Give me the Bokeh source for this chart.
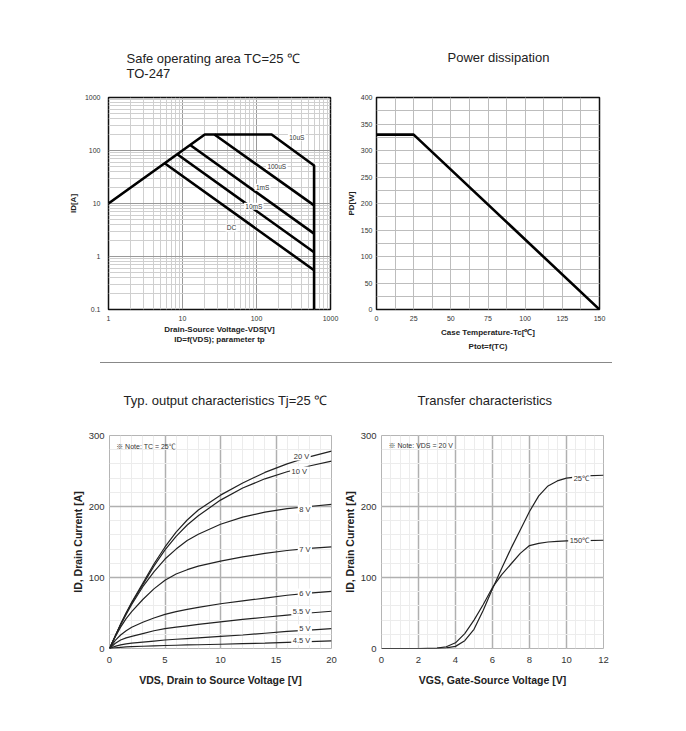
from bokeh.plotting import figure
from bokeh.models import (Title, Label, LabelSet, ColumnDataSource, FixedTicker,
                          CustomJSTickFormatter, SingleIntervalTicker, Div, Range1d)
from bokeh.layouts import row, column
from bokeh.core.properties import value
from bokeh.embed import file_html
from bokeh.resources import INLINE

FONT = "Liberation Sans"
NOTE_FONT = "'Liberation Sans', 'Noto Sans CJK SC'"

# ---------------- data ----------------
# Safe operating area (log-log)
soa_env_v = [1, 20, 160, 600, 600]
soa_env_i = [10, 200, 200, 52, 0.1]
soa_100us_v = [27, 600]
soa_100us_i = [200, 9.2]
soa_1ms_v = [12.7, 600]
soa_1ms_i = [127, 2.7]
soa_10ms_v = [8.5, 600]
soa_10ms_i = [85, 1.2]
soa_dc_v = [5.74, 600]
soa_dc_i = [57.4, 0.55]
soa_labels = ["10uS", "100uS", "1mS", "10mS", "DC"]
soa_label_v = [350, 188, 121, 92, 46]
soa_label_i = [177, 50, 20.3, 8.9, 3.45]
soa_x_ticks = [1, 10, 100, 1000]
soa_y_ticks = [0.1, 1, 10, 100, 1000]
soa_x_minor = [2, 3, 4, 5, 6, 7, 8, 9, 20, 30, 40, 50, 60, 70, 80, 90,
               200, 300, 400, 500, 600, 700, 800, 900]
soa_y_minor = [0.2, 0.3, 0.4, 0.5, 0.6, 0.7, 0.8, 0.9, 2, 3, 4, 5, 6, 7, 8, 9,
               20, 30, 40, 50, 60, 70, 80, 90, 200, 300, 400, 500, 600, 700, 800, 900]

# Power dissipation
pd_tc = [0, 25, 150]
pd_w = [330, 330, 0]

# Output characteristics
out_vds = [0, 0.5, 1, 1.5, 2, 3, 4, 5, 6, 7, 8, 10, 12, 14, 16, 18, 20]
out_20v = [0, 17, 34, 50, 65, 92, 119, 143, 164, 181, 195, 216, 233, 248, 260, 270, 278]
out_10v = [0, 17, 34, 50, 64, 90, 116, 139, 158, 174, 187, 209, 226, 239, 249, 257, 264]
out_8v = [0, 17, 33, 48, 62, 87, 108, 126, 140, 152, 161, 175, 185, 192, 197, 200, 203]
out_7v = [0, 16, 30, 42, 52, 69, 84, 96, 105, 111, 116, 123, 129, 134, 138, 141, 143]
out_6v = [0, 11, 19, 25, 30, 37, 43, 48, 52, 55, 58, 63, 67, 71, 75, 78, 80.5]
out_55v = [0, 7, 12, 15, 17, 21, 25, 28, 30, 32, 34, 37.5, 41, 44, 47, 50, 52.5]
out_5v = [0, 3, 5, 6.5, 7.5, 9, 10.5, 12, 13, 14, 15, 17, 19, 21.5, 24, 26, 28]
out_45v = [0, 1, 1.7, 2.2, 2.6, 3.2, 3.7, 4.2, 4.6, 5, 5.3, 6, 6.8, 7.6, 8.6, 9.7, 10.8]
out_labels = ["20 V", "10 V", "8 V", "7 V", "6 V", "5.5 V", "5 V", "4.5 V"]
out_label_x = [17.3, 17.1, 17.6, 17.6, 17.6, 17.3, 17.6, 17.3]
out_label_y = [271, 250, 196, 139, 78, 52.5, 27.7, 10.8]

# Transfer characteristics
tr_vgs = [0, 1, 2, 3, 3.5, 4, 4.5, 5, 5.5, 6, 6.5, 7, 7.5, 8, 8.5, 9, 9.5, 10, 11, 12]
tr_25c = [0, 0, 0, 0.3, 1, 3, 11, 27, 54, 84, 113, 141, 167, 193, 215, 229, 236, 240, 243, 244]
tr_150c = [0, 0, 0, 0.5, 2.5, 8, 21, 40, 62, 86, 104, 119, 134, 145, 148, 150, 151, 151.5, 152, 152.5]
tr_labels = ["25\u2103", "150\u2103"]
tr_label_x = [10.8, 10.7]
tr_label_y = [239, 152]


def base_fig(**kw):
    p = figure(output_backend="svg", toolbar_location=None, title=None, **kw)
    p.background_fill_color = "white"
    p.border_fill_color = "white"
    return p


def style_axes(p, tick_size, label_size, outline_color, outline_width):
    for ax in (p.xaxis[0], p.yaxis[0]):
        ax.axis_line_color = None
        ax.major_tick_line_color = None
        ax.minor_tick_line_color = None
        ax.major_tick_out = 0
        ax.major_tick_in = 0
        ax.minor_tick_out = 0
        ax.minor_tick_in = 0
        ax.major_label_text_font = FONT
        ax.major_label_text_font_size = tick_size
        ax.major_label_text_color = "#333333"
        ax.axis_label_text_font = FONT
        ax.axis_label_text_font_size = label_size
        ax.axis_label_text_font_style = "bold"
        ax.axis_label_text_color = "#222222"
    p.outline_line_color = outline_color
    p.outline_line_width = outline_width
    p.outline_line_alpha = 1.0


def add_title(p, text, align, offset, standoff, size="13px", loc="above", bold=False):
    t = Title(text=text, align=align, offset=offset, standoff=standoff,
              text_font=FONT, text_font_size=size,
              text_font_style="bold" if bold else "normal", text_color="#222222")
    p.add_layout(t, loc)


def add_labels(p, xs, ys, texts, size):
    src = ColumnDataSource(dict(x=xs, y=ys, t=["\u2009" + t + "\u2009" for t in texts]))
    p.add_layout(LabelSet(x="x", y="y", text="t", source=src, text_align="center",
                          text_baseline="middle", text_font=value(FONT),
                          text_font_size=value(size), text_color="#333333",
                          background_fill_color="white"))


# ---------------- SOA ----------------
p1 = base_fig(width=340, height=355, x_axis_type="log", y_axis_type="log",
              x_range=Range1d(1, 1000), y_range=Range1d(0.1, 1000),
              min_border_left=108, min_border_right=10, min_border_top=97, min_border_bottom=46)
style_axes(p1, "7px", "8px", "#111111", 1.5)
p1.xaxis.ticker = FixedTicker(ticks=soa_x_ticks, minor_ticks=soa_x_minor)
p1.yaxis.ticker = FixedTicker(ticks=soa_y_ticks, minor_ticks=soa_y_minor)
p1.xaxis.formatter = CustomJSTickFormatter(code="return tick.toString();")
p1.yaxis.formatter = CustomJSTickFormatter(code="return tick.toString();")
p1.xaxis.axis_label = "Drain-Source Voltage-VDS[V]\nID=f(VDS); parameter tp"
p1.yaxis.axis_label = "ID[A]"
p1.xaxis.major_label_standoff = 6
p1.xaxis.axis_label_standoff = 1
p1.yaxis.major_label_standoff = 8
p1.yaxis.axis_label_standoff = 4
for g in (p1.xgrid, p1.ygrid):
    g.grid_line_color = "#9a9a9a"
    g.grid_line_width = 1
    g.minor_grid_line_color = "#cfcfcf"
    g.minor_grid_line_width = 1
lw = 2.6
p1.line(soa_env_v, soa_env_i, line_color="black", line_width=lw)
p1.line(soa_100us_v, soa_100us_i, line_color="black", line_width=lw)
p1.line(soa_1ms_v, soa_1ms_i, line_color="black", line_width=lw)
p1.line(soa_10ms_v, soa_10ms_i, line_color="black", line_width=lw)
p1.line(soa_dc_v, soa_dc_i, line_color="black", line_width=lw)
add_labels(p1, soa_label_v, soa_label_i, soa_labels, "6.5px")
add_title(p1, "Safe operating area TC=25 \u2103\nTO-247", "left", 18, 34)

# ---------------- Power dissipation ----------------
p2 = base_fig(width=338, height=355, x_range=Range1d(0, 150), y_range=Range1d(0, 400),
              min_border_left=36, min_border_right=79, min_border_top=97, min_border_bottom=46)
style_axes(p2, "7px", "8px", "#111111", 1.5)
p2.xaxis.ticker = SingleIntervalTicker(interval=25, num_minor_ticks=2)
p2.yaxis.ticker = SingleIntervalTicker(interval=50, num_minor_ticks=2)
p2.xaxis.axis_label = "Case Temperature-Tc[\u2103]"
p2.yaxis.axis_label = "PD[W]"
p2.xaxis.major_label_standoff = 6
p2.xaxis.axis_label_standoff = 4
p2.yaxis.major_label_standoff = 4
p2.yaxis.axis_label_standoff = 2
for g in (p2.xgrid, p2.ygrid):
    g.grid_line_color = "#bdbdbd"
    g.minor_grid_line_color = "#bdbdbd"
p2.line(pd_tc, pd_w, line_color="black", line_width=2.6)
add_title(p2, "Power dissipation", "left", 71, 65)
add_title(p2, "Ptot=f(TC)", "center", 0, 1, size="8px", loc="below", bold=True)


def style_bottom(p):
    style_axes(p, "9.5px", "10.5px", "#b5b5b5", 1)
    p.xaxis.major_label_standoff = 8
    p.xaxis.axis_label_standoff = 8
    p.yaxis.major_label_standoff = 5
    p.yaxis.axis_label_standoff = 2
    for g in (p.xgrid, p.ygrid):
        g.grid_line_color = "#b0b0b0"
        g.grid_line_width = 1.5
        g.minor_grid_line_color = "#ececec"
        g.minor_grid_line_width = 1


# ---------------- Output characteristics ----------------
p3 = base_fig(width=340, height=352, x_range=Range1d(0, 20), y_range=Range1d(0, 300),
              min_border_left=109, min_border_right=9, min_border_top=72, min_border_bottom=67)
style_bottom(p3)
p3.xaxis.ticker = SingleIntervalTicker(interval=5, num_minor_ticks=5)
p3.yaxis.ticker = SingleIntervalTicker(interval=100, num_minor_ticks=5)
p3.xaxis.axis_label = "VDS, Drain to Source Voltage [V]"
p3.yaxis.axis_label = "ID, Drain Current [A]"
for ys in (out_20v, out_10v, out_8v, out_7v, out_6v, out_55v, out_5v, out_45v):
    p3.line(out_vds, ys, line_color="#222222", line_width=1.2)
add_labels(p3, out_label_x, out_label_y, out_labels, "7.5px")
p3.add_layout(Label(x=0.6, y=284, text="\u203b Note: TC = 25\u2103", text_font=NOTE_FONT,
                    text_font_size="7px", text_color="#333333", text_baseline="middle"))
add_title(p3, "Typ. output characteristics Tj=25 \u2103", "left", 14, 55)

# ---------------- Transfer characteristics ----------------
p4 = base_fig(width=338, height=352, x_range=Range1d(0, 12), y_range=Range1d(0, 300),
              min_border_left=39, min_border_right=75, min_border_top=72, min_border_bottom=67)
style_bottom(p4)
p4.xaxis.ticker = SingleIntervalTicker(interval=2, num_minor_ticks=4)
p4.yaxis.ticker = SingleIntervalTicker(interval=100, num_minor_ticks=5)
p4.xaxis.axis_label = "VGS, Gate-Source Voltage [V]"
p4.yaxis.axis_label = "ID, Drain Current [A]"
p4.line(tr_vgs, tr_25c, line_color="#222222", line_width=1.2)
p4.line(tr_vgs, tr_150c, line_color="#222222", line_width=1.2)
add_labels(p4, tr_label_x, tr_label_y, tr_labels, "7.5px")
p4.add_layout(Label(x=0.38, y=286, text="\u203b Note: VDS = 20 V", text_font=NOTE_FONT,
                    text_font_size="7px", text_color="#333333", text_baseline="middle"))
add_title(p4, "Transfer characteristics", "left", 36, 55)

sep = Div(text="", width=512, height=1, margin=(7, 0, 0, 100),
          styles={"background-color": "#888888"})

layout = column(row(p1, p2), sep, row(p3, p4))
open("out.html", "w").write(file_html(layout, INLINE))
